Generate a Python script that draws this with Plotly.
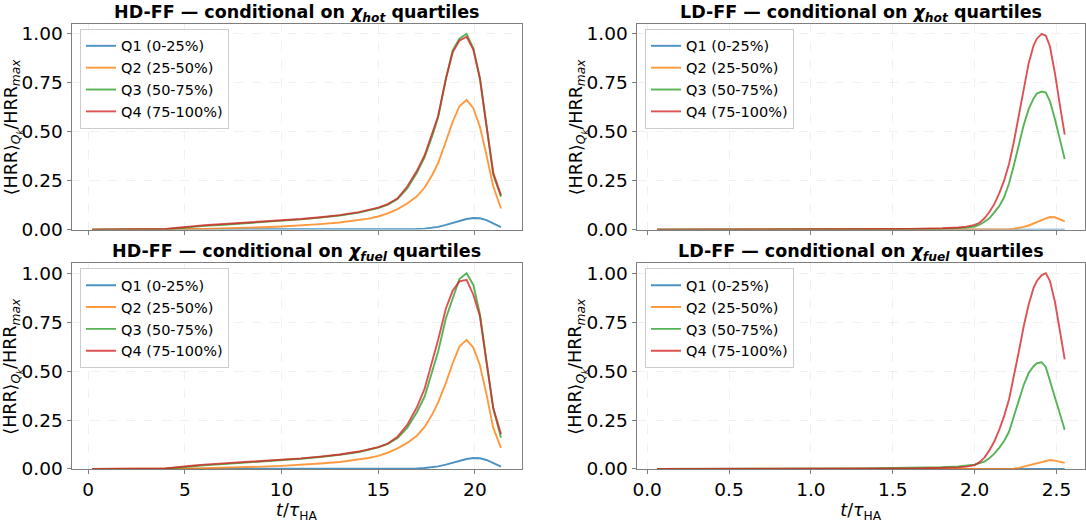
import plotly.graph_objects as go

# ---------------- data ----------------
labels = ["Q1 (0-25%)", "Q2 (25-50%)", "Q3 (50-75%)", "Q4 (75-100%)"]
colors = ["rgba(31,119,180,0.8)", "rgba(255,127,14,0.8)",
          "rgba(44,160,44,0.8)", "rgba(214,39,40,0.8)"]

t_hd = [0.2, 1.0, 2.0, 3.0, 3.5, 4.0, 4.5, 5.0, 5.5, 6.0, 7.0, 8.0, 9.0, 10.0,
        11.0, 12.0, 13.0, 14.0, 14.5, 15.0, 15.5, 16.0, 16.5, 17.0, 17.4, 17.8,
        18.1, 18.5, 18.85, 19.2, 19.57, 19.92, 20.26, 20.6, 20.95, 21.35]

hd_hot_q1 = [0, 0, 0, 0, 0, 0, 0, 0, 0, 0, 0, 0, 0, 0, 0, 0, 0, 0, 0, 0,
             0.0005, 0.001, 0.002, 0.003, 0.005, 0.009, 0.014, 0.024, 0.034,
             0.045, 0.054, 0.059, 0.058, 0.048, 0.032, 0.013]
hd_hot_q2 = [0, 0, 0, 0, 0, 0, 0.001, 0.002, 0.003, 0.004, 0.006, 0.009, 0.012,
             0.016, 0.021, 0.028, 0.036, 0.048, 0.056, 0.067, 0.083, 0.105,
             0.133, 0.17, 0.215, 0.28, 0.34, 0.45, 0.55, 0.63, 0.662, 0.62,
             0.525, 0.38, 0.22, 0.108]
hd_hot_q3 = [0, 0, 0, 0, 0.001, 0.002, 0.006, 0.011, 0.015, 0.019, 0.025, 0.031,
             0.037, 0.044, 0.052, 0.061, 0.072, 0.087, 0.097, 0.110, 0.128,
             0.156, 0.21, 0.29, 0.37, 0.48, 0.575, 0.77, 0.915, 0.975, 1.0,
             0.925, 0.775, 0.52, 0.28, 0.168]
hd_hot_q4 = [0, 0, 0, 0, 0.001, 0.003, 0.008, 0.014, 0.018, 0.022, 0.028, 0.034,
             0.040, 0.047, 0.054, 0.063, 0.074, 0.089, 0.099, 0.112, 0.130,
             0.160, 0.22, 0.30, 0.38, 0.49, 0.58, 0.77, 0.905, 0.965, 0.985,
             0.92, 0.77, 0.53, 0.29, 0.175]

hd_fuel_q1 = [0, 0, 0, 0, 0, 0, 0, 0, 0, 0, 0, 0, 0, 0, 0, 0, 0, 0, 0, 0,
              0.0005, 0.001, 0.002, 0.003, 0.005, 0.008, 0.013, 0.022, 0.032,
              0.043, 0.051, 0.056, 0.055, 0.046, 0.030, 0.012]
hd_fuel_q2 = [0, 0, 0, 0, 0, 0, 0.001, 0.002, 0.003, 0.004, 0.006, 0.009, 0.012,
              0.016, 0.021, 0.028, 0.036, 0.048, 0.056, 0.067, 0.083, 0.105,
              0.133, 0.17, 0.215, 0.28, 0.34, 0.44, 0.54, 0.625, 0.66, 0.62,
              0.53, 0.38, 0.21, 0.108]
hd_fuel_q3 = [0, 0, 0, 0, 0.001, 0.002, 0.006, 0.011, 0.015, 0.019, 0.025, 0.031,
              0.037, 0.044, 0.052, 0.061, 0.072, 0.087, 0.097, 0.110, 0.128,
              0.158, 0.21, 0.29, 0.37, 0.50, 0.60, 0.77, 0.87, 0.97, 1.0, 0.94,
              0.79, 0.55, 0.31, 0.16]
hd_fuel_q4 = [0, 0, 0, 0, 0.001, 0.003, 0.008, 0.014, 0.018, 0.022, 0.028, 0.034,
              0.040, 0.047, 0.054, 0.063, 0.074, 0.089, 0.099, 0.112, 0.130,
              0.165, 0.225, 0.315, 0.41, 0.55, 0.66, 0.82, 0.91, 0.958, 0.966,
              0.89, 0.78, 0.545, 0.31, 0.178]

t_ld = [0.06, 0.5, 1.0, 1.3, 1.5, 1.6, 1.7, 1.8, 1.9, 1.95, 2.0, 2.03, 2.06, 2.09,
        2.12, 2.15, 2.18, 2.21, 2.24, 2.27, 2.30, 2.33, 2.36, 2.38, 2.41, 2.435,
        2.46, 2.49, 2.52, 2.55]

ld_hot_q1 = [0] * 30
ld_hot_q2 = [0, 0, 0, 0, 0, 0, 0, 0, 0, 0, 0, 0, 0, 0, 0, 0, 0.001, 0.002, 0.004,
             0.008, 0.014, 0.021, 0.03, 0.038, 0.048, 0.057, 0.064, 0.063, 0.053,
             0.042]
ld_hot_q3 = [0, 0, 0.001, 0.001, 0.002, 0.002, 0.003, 0.004, 0.007, 0.01, 0.016,
             0.025, 0.04, 0.058, 0.088, 0.12, 0.165, 0.235, 0.33, 0.44, 0.535,
             0.615, 0.67, 0.695, 0.705, 0.70, 0.655, 0.565, 0.47, 0.36]
ld_hot_q4 = [0, 0, 0.001, 0.002, 0.003, 0.004, 0.005, 0.007, 0.011, 0.015, 0.024,
             0.035, 0.058, 0.09, 0.13, 0.185, 0.25, 0.335, 0.45, 0.58, 0.72, 0.85,
             0.94, 0.975, 1.0, 0.99, 0.935, 0.80, 0.64, 0.485]

ld_fuel_q1 = [0] * 30
ld_fuel_q2 = [0, 0, 0, 0, 0, 0, 0, 0, 0, 0, 0, 0, 0, 0, 0, 0, 0, 0.001, 0.002,
              0.006, 0.012, 0.019, 0.026, 0.031, 0.038, 0.043, 0.046, 0.043,
              0.037, 0.031]
ld_fuel_q3 = [0, 0, 0.001, 0.003, 0.005, 0.006, 0.007, 0.009, 0.013, 0.016,
              0.022, 0.03, 0.038, 0.055, 0.078, 0.108, 0.143, 0.19, 0.27, 0.355,
              0.43, 0.49, 0.525, 0.54, 0.545, 0.52, 0.45, 0.36, 0.28, 0.2]
ld_fuel_q4 = [0, 0, 0.0005, 0.001, 0.002, 0.003, 0.004, 0.005, 0.008, 0.012,
              0.02, 0.035, 0.058, 0.095, 0.14, 0.2, 0.27, 0.355, 0.47, 0.6, 0.73,
              0.84, 0.925, 0.96, 0.99, 1.0, 0.96, 0.855, 0.71, 0.56]

panels = [
    ("<b>HD-FF — conditional on <i>χ<sub>hot</sub></i> quartiles</b>", t_hd,
     [hd_hot_q1, hd_hot_q2, hd_hot_q3, hd_hot_q4]),
    ("<b>LD-FF — conditional on <i>χ<sub>hot</sub></i> quartiles</b>", t_ld,
     [ld_hot_q1, ld_hot_q2, ld_hot_q3, ld_hot_q4]),
    ("<b>HD-FF — conditional on <i>χ<sub>fuel</sub></i> quartiles</b>", t_hd,
     [hd_fuel_q1, hd_fuel_q2, hd_fuel_q3, hd_fuel_q4]),
    ("<b>LD-FF — conditional on <i>χ<sub>fuel</sub></i> quartiles</b>", t_ld,
     [ld_fuel_q1, ld_fuel_q2, ld_fuel_q3, ld_fuel_q4]),
]

# ---------------- layout geometry (pixels) ----------------
W, H = 1086, 525
col_x = [(71.5, 521.5), (636.5, 1085.0)]
row_y = [(23.5, 233.5), (268.0, 478.0)]
xranges = [[-0.86, 22.41], [-0.065, 2.674]]
FONT = "DejaVu Sans"
GRID = "rgba(0,0,0,0.06)"
FRAME = "#7f7f7f"
TICK_SIZE = 18.5

fig = go.Figure()
layout = dict(width=W, height=H, margin=dict(l=0, r=0, t=0, b=0),
              paper_bgcolor="white", plot_bgcolor="white",
              font=dict(family=FONT, color="black"), showlegend=True)
annotations = []

for i, (title, t, series) in enumerate(panels):
    r, c = divmod(i, 2)
    n = "" if i == 0 else str(i + 1)
    leg = "legend" if i == 0 else "legend%d" % (i + 1)
    for k in range(4):
        fig.add_trace(go.Scatter(
            x=t, y=series[k], mode="lines", name=labels[k],
            line=dict(color=colors[k], width=1.9),
            xaxis="x" + n, yaxis="y" + n, legend=leg,
            legendgroup="p%d_%d" % (i, k)))
    x0, x1 = col_x[c]
    y0, y1 = row_y[r]
    xd = [x0 / W, x1 / W]
    yd = [1 - y1 / H, 1 - y0 / H]
    if c == 0:
        xt = dict(tickvals=[0, 5, 10, 15, 20], ticktext=["0", "5", "10", "15", "20"])
    else:
        xt = dict(tickvals=[0, 0.5, 1.0, 1.5, 2.0, 2.5],
                  ticktext=["0.0", "0.5", "1.0", "1.5", "2.0", "2.5"])
    xtitle = {}
    if r == 1:
        xtitle = dict(title=dict(text="<i>t</i>/<i>τ</i><sub>HA</sub>", standoff=3,
                                 font=dict(family=FONT, size=17.5, color="black")))
    layout["xaxis" + n] = dict(
        domain=xd, range=xranges[c], anchor="y" + n, **xt, **xtitle,
        showticklabels=(r == 1), ticks="outside", ticklen=4, tickwidth=1,
        tickcolor=FRAME, showline=True, linecolor=FRAME, linewidth=1,
        mirror=True, showgrid=True, gridcolor=GRID, griddash="dash",
        gridwidth=0.8, zeroline=False, automargin=False,
        tickfont=dict(family=FONT, size=TICK_SIZE, color="black"))
    layout["yaxis" + n] = dict(
        domain=yd, range=[0, 1.05], anchor="x" + n,
        tickvals=[0, 0.25, 0.5, 0.75, 1.0],
        ticktext=["0.00", "0.25", "0.50", "0.75", "1.00"],
        ticks="outside", ticklen=4, tickwidth=1, tickcolor=FRAME,
        showline=True, linecolor=FRAME, linewidth=1, mirror=True,
        showgrid=True, gridcolor=GRID, griddash="dash", gridwidth=0.8,
        zeroline=False, tickfont=dict(family=FONT, size=TICK_SIZE, color="black"))
    layout[leg] = dict(
        x=(x0 + 8.5) / W, y=1 - (y0 + 5) / H, xanchor="left", yanchor="top",
        bgcolor="rgba(255,255,255,0.8)", bordercolor="#cccccc", borderwidth=1,
        font=dict(family=FONT, size=14.5, color="black"),
        traceorder="grouped", tracegroupgap=0, itemwidth=30)
    # title
    annotations.append(dict(
        text=title, x=(x0 + x1) / 2 / W, y=1 - (y0 - 11) / H,
        xref="paper", yref="paper", xanchor="center", yanchor="middle",
        showarrow=False, font=dict(family=FONT, size=17.5, color="black")))
    # y-axis title
    annotations.append(dict(
        text="⟨HRR⟩<sub><i>Q<sub>k</sub></i></sub>/HRR<sub><i>max</i></sub>",
        x=(x0 - 59) / W, y=1 - (y0 + y1) / 2 / H, xref="paper", yref="paper",
        xanchor="center", yanchor="middle", textangle=-90, showarrow=False,
        font=dict(family=FONT, size=17.5, color="black")))

layout["annotations"] = annotations
fig.update_layout(**layout)
fig.write_html("out.html")
